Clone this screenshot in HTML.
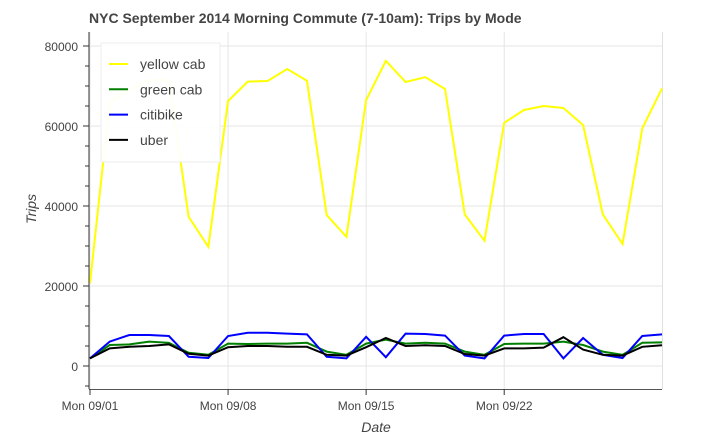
<!DOCTYPE html>
<html><head><meta charset="utf-8"><style>
body{margin:0;background:#fff;font-family:"Liberation Sans",sans-serif}
</style></head><body>
<svg id="c" width="715" height="440" xmlns="http://www.w3.org/2000/svg" font-family="Liberation Sans, sans-serif"></svg>
<script>
const days = Array.from({length:30},(_,i)=>i+1);
const yellowCab = [20700,66000,69000,71500,71500,37300,29800,66250,71100,71250,74250,71300,37750,32300,66500,76300,71000,72200,69250,37900,31300,60800,64000,65000,64500,60250,37900,30500,59400,69400];
const greenCab = [1900,5250,5400,6100,5800,3300,2800,5600,5500,5600,5600,5800,3600,2800,5600,6600,5600,5800,5600,3600,2800,5500,5600,5600,6100,5250,3600,2800,5800,5900];
const citibike = [1900,6100,7750,7750,7500,2300,2000,7500,8300,8300,8100,7900,2300,1900,7300,2200,8100,8000,7600,2600,1900,7600,8000,8000,1900,7000,2800,2000,7500,7900];
const uber = [1900,4400,4800,5000,5400,3050,2600,4700,5000,5000,4800,4800,2800,2600,4700,7000,5000,5200,5000,3000,2600,4400,4400,4600,7200,4100,2800,2600,4800,5200];
const yTicks = [0,20000,40000,60000,80000];
const xTickDays = [1,8,15,22];
const xTickLabels = ["Mon 09/01","Mon 09/08","Mon 09/15","Mon 09/22"];
const seriesNames = ["yellow cab","green cab","citibike","uber"];
const seriesColors = ["#ffff00","#008000","#0000ff","#000000"];

const svg=document.getElementById('c');
const NS="http://www.w3.org/2000/svg";
const L=89,R=662,T=32,B=389;
const xs=d=>90+(d-1)*(R-90)/29;
const ys=v=>366-v*80/20000;
function mk(tag,attrs,parent){const e=document.createElementNS(NS,tag);for(const k in attrs)e.setAttribute(k,attrs[k]);(parent||svg).appendChild(e);return e;}

mk('line',{x1:R+0.5,x2:R+0.5,y1:T,y2:B,stroke:'#e0e0e0'});
xTickDays.forEach(d=>{const g=mk('line',{x1:xs(d),x2:xs(d),y1:T,y2:B,stroke:'#e5e5e5'});

});
yTicks.forEach(v=>{const g=mk('line',{x1:L,x2:R,y1:ys(v),y2:ys(v),stroke:'#e5e5e5'});

});

[yellowCab,greenCab,citibike,uber].forEach((arr,i)=>{
 const p=mk('polyline',{points:arr.map((v,j)=>xs(days[j])+','+ys(v)).join(' '),fill:'none',stroke:seriesColors[i],'stroke-width':2,'stroke-linejoin':'miter'});
 
 
});

mk('rect',{x:0,y:B,width:715,height:51,fill:'#fff'});

const ax=mk('g',{});


mk('line',{x1:L,x2:L,y1:T,y2:B,stroke:'#333'},ax);
for(let v=-5000;v<=80000;v+=5000){const y=ys(v);if(y<T||y>B)continue;const major=v%20000===0;
 mk('line',{x1:major?L-6:L-4,x2:L,y1:y,y2:y,stroke:'#333'},ax);}
yTicks.forEach(v=>{const t=mk('text',{x:78,y:ys(v)+5,'text-anchor':'end','font-size':12,fill:'#444'},ax);t.textContent=v;

});
const xa=mk('g',{});


mk('line',{x1:L,x2:R,y1:B+0.5,y2:B+0.5,stroke:'#555'},xa);
xTickDays.forEach((d,i)=>{mk('line',{x1:xs(d),x2:xs(d),y1:B,y2:B+6,stroke:'#333'},xa);
 const t=mk('text',{x:xs(d),y:410,'text-anchor':'middle','font-size':12,fill:'#444'},xa);t.textContent=xTickLabels[i];
 
 });

let t=mk('text',{x:89,y:23,'font-size':14,'font-weight':'bold',fill:'#444'});t.textContent="NYC September 2014 Morning Commute (7-10am): Trips by Mode";


t=mk('text',{x:376,y:432,'font-size':14,'font-style':'italic','text-anchor':'middle',fill:'#444'});t.textContent="Date";


t=mk('text',{x:0,y:0,'font-size':14,'font-style':'italic','text-anchor':'middle',fill:'#444',transform:'translate(36,209) rotate(-90)'});t.textContent="Trips";



const lg=mk('g',{});


mk('rect',{x:101,y:43,width:119,height:119,fill:'#fff','fill-opacity':0.95,stroke:'#eee'},lg);
seriesNames.forEach((n,i)=>{const y=64+i*25.3;
 const e=mk('g',{},lg);
 
 
 mk('line',{x1:109,x2:128,y1:y,y2:y,stroke:seriesColors[i],'stroke-width':2},e);
 const tt=mk('text',{x:140,y:y+5,'font-size':14,fill:'#444'},e);tt.textContent=n;});
</script>
</body></html>
